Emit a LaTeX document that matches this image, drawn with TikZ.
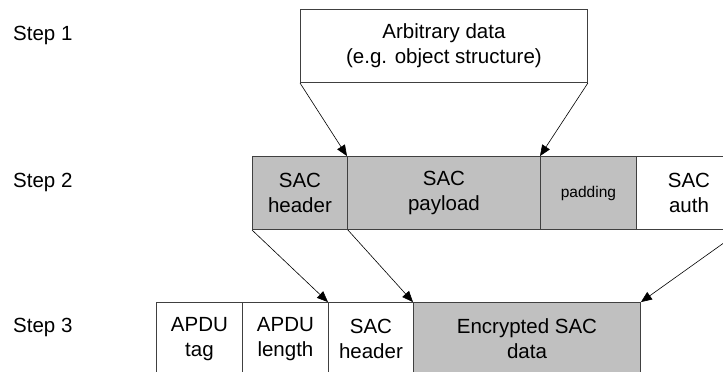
\documentclass[tikz,border=0pt]{standalone}
\usepackage{fontspec}
\setmainfont{Liberation Sans}
\usetikzlibrary{arrows.meta}
\definecolor{cellgray}{HTML}{C0C0C0}
\definecolor{edgegray}{HTML}{404040}

\begin{document}
\begin{tikzpicture}[x=1pt, y=1pt,
  cell/.style={draw=edgegray, line width=0.9pt, align=center, inner sep=0pt,
    minimum height=73pt, anchor=south west, font=\fontsize{20.5}{25}\selectfont},
  arr/.style={-{Triangle[length=11pt,width=9pt]}, line width=0.6pt}]
  \clip (0,0) rectangle (723,372);
  \foreach \y/\lab in {337/1,190/2,45/3}
    \node[anchor=west, inner sep=0pt, font=\fontsize{20.5}{25}\selectfont] (step\lab) at (13,\y) {Step \lab};
  % step 1
  \node[cell, fill=white, minimum width=287pt] (data) at (300,289) {Arbitrary data\\(e.g. object structure)};
  % step 2
  \foreach \name/\x/\w/\fc/\txt in {hdr/252/95/cellgray/SAC\\header, pay/347/193/cellgray/SAC\\payload,
      pad/540/96/cellgray/{\fontsize{15.5}{18}\selectfont padding}, auth/636/105/white/SAC\\auth}
    \node[cell, fill=\fc, minimum width=\w pt] (\name) at (\x,142) {\txt};
  % step 3
  \foreach \name/\x/\w/\fc/\txt in {tag/156/86/white/APDU\\tag, len/242/86/white/APDU\\length,
      shdr/328/85/white/SAC\\header, enc/413/227/cellgray/Encrypted SAC\\data}
    \node[cell, fill=\fc, minimum width=\w pt] (\name) at (\x,-4) {\txt};
  \draw[arr] (data.south west) -- (pay.north west);
  \draw[arr] (data.south east) -- (pad.north west);
  \draw[arr] (hdr.south west) -- (shdr.north west);
  \draw[arr] (hdr.south east) -- (enc.north west);
  \draw[arr] (auth.south east) -- (enc.north east);
\end{tikzpicture}
\end{document}
